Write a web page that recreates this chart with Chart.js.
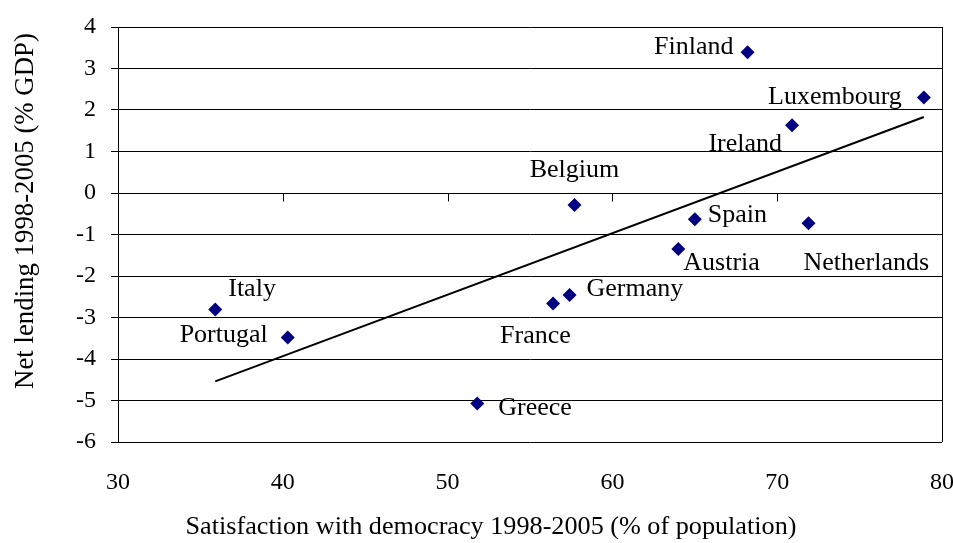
<!DOCTYPE html>
<html>
<head>
<meta charset="utf-8">
<script src="https://cdn.jsdelivr.net/npm/chart.js@4.4.1/dist/chart.umd.min.js"></script>
<style>
  html, body { margin: 0; padding: 0; background: #ffffff; }
  #wrap { width: 953px; height: 543px; }
</style>
</head>
<body>
<div id="wrap"><canvas id="c" width="953" height="543"></canvas></div>
<script>
// ---- data ----
const countries    = ['Finland', 'Luxembourg', 'Ireland', 'Belgium', 'Spain', 'Netherlands', 'Austria', 'Germany', 'France', 'Italy', 'Portugal', 'Greece'];
const satisfaction = [68.2, 78.9, 70.9, 57.7, 65.0, 71.9, 64.0, 57.4, 56.4, 35.9, 40.3, 51.8];
const netLending   = [3.39, 2.30, 1.63, -0.29, -0.63, -0.73, -1.35, -2.46, -2.66, -2.81, -3.48, -5.07];
const trendX = [35.9, 78.9];
const trendY = [-4.54, 1.83];
const xTicks = [30, 40, 50, 60, 70, 80];
const yTicks = [-6, -5, -4, -3, -2, -1, 0, 1, 2, 3, 4];
const xTitle = 'Satisfaction with democracy 1998-2005 (% of population)';
const yTitle = 'Net lending 1998-2005 (% GDP)';

// label placement relative to each point (align, dx, dy to baseline)
const labelPlace = {
  'Finland':     ['right', -14, 2],
  'Luxembourg':  ['right', -22, 6],
  'Ireland':     ['right', -10, 26],
  'Belgium':     ['center', 0, -28],
  'Spain':       ['left', 13, 3],
  'Netherlands': ['left', -5, 47],
  'Austria':     ['left', 5, 21],
  'Germany':     ['left', 17, 1],
  'France':      ['left', -53, 40],
  'Italy':       ['left', 13, -14],
  'Portugal':    ['right', -20, 5],
  'Greece':      ['left', 21, 12]
};

const FONT = "'Liberation Serif', 'Times New Roman', serif";
Chart.defaults.font.family = FONT;
Chart.defaults.color = '#000';
const points = satisfaction.map((x, i) => ({ x: x, y: netLending[i] }));
const trend = trendX.map((x, i) => ({ x: x, y: trendY[i] }));

const decor = {
  id: 'decor',
  beforeDatasetsDraw(chart) {
    const { ctx, chartArea: a, scales: { x, y } } = chart;
    ctx.save();
    ctx.strokeStyle = '#000';
    ctx.lineWidth = 1;
    // right border of plot area
    ctx.beginPath();
    ctx.moveTo(Math.round(a.right) + 0.5, a.top);
    ctx.lineTo(Math.round(a.right) + 0.5, a.bottom);
    ctx.stroke();
    // horizontal axis crossing at y = 0 with downward tick marks
    const y0 = Math.round(y.getPixelForValue(0)) + 0.5;
    ctx.beginPath();
    ctx.moveTo(a.left, y0);
    ctx.lineTo(a.right, y0);
    xTicks.forEach(v => {
      if (v === xTicks[0] || v === xTicks[xTicks.length - 1]) return;
      const px = Math.round(x.getPixelForValue(v)) + 0.5;
      ctx.moveTo(px, y0);
      ctx.lineTo(px, y0 + 8);
    });
    ctx.stroke();
    ctx.restore();
  },
  afterDatasetsDraw(chart) {
    const { ctx, scales: { x, y } } = chart;
    ctx.save();
    ctx.fillStyle = '#000';
    ctx.font = '26px ' + FONT;
    ctx.textBaseline = 'alphabetic';
    countries.forEach((name, i) => {
      const p = labelPlace[name];
      const px = x.getPixelForValue(satisfaction[i]);
      const py = y.getPixelForValue(netLending[i]);
      ctx.textAlign = p[0];
      ctx.fillText(name, px + p[1], py + p[2]);
    });
    // axis titles
    ctx.textAlign = 'center';
    ctx.textBaseline = 'middle';
    ctx.font = '26.2px ' + FONT;
    ctx.fillText(xTitle, 491, 527);
    ctx.font = '26.8px ' + FONT;
    ctx.translate(26, 211);
    ctx.rotate(-Math.PI / 2);
    ctx.fillText(yTitle, 0, 0);
    ctx.restore();
  }
};

new Chart(document.getElementById('c'), {
  type: 'scatter',
  data: {
    datasets: [
      {
        label: 'Countries',
        data: points,
        pointStyle: 'rectRot',
        pointRadius: 7,
        pointHoverRadius: 7,
        backgroundColor: '#000080',
        borderColor: '#000080',
        borderWidth: 0,
        order: 1
      },
      {
        label: 'Trend',
        type: 'line',
        data: trend,
        borderColor: '#000',
        borderWidth: 2,
        pointRadius: 0,
        fill: false,
        order: 2
      }
    ]
  },
  options: {
    responsive: false,
    animation: false,
    devicePixelRatio: 1,
    layout: { padding: { left: 0, right: 11, top: 27, bottom: 0 } },
    plugins: { legend: { display: false }, tooltip: { enabled: false }, title: { display: false } },
    scales: {
      x: {
        type: 'linear',
        min: xTicks[0],
        max: xTicks[xTicks.length - 1],
        afterBuildTicks: s => { s.ticks = xTicks.map(v => ({ value: v })); },
        grid: { display: false, drawTicks: false },
        border: { display: false },
        ticks: { color: '#000', font: { family: FONT, size: 24 }, padding: 26, maxRotation: 0 },
        afterFit: s => { s.height = 101; s.paddingLeft = 0; s.paddingRight = 0; }
      },
      y: {
        type: 'linear',
        min: yTicks[0],
        max: yTicks[yTicks.length - 1],
        afterBuildTicks: s => { s.ticks = yTicks.map(v => ({ value: v })); },
        grid: { color: '#000', lineWidth: 1, tickLength: 7, tickColor: '#000', drawTicks: true },
        border: { display: true, color: '#000', width: 1 },
        ticks: { color: '#000', font: { family: FONT, size: 24 }, padding: 15 },
        afterFit: s => { s.width = 118; s.paddingTop = 0; s.paddingBottom = 0; }
      }
    }
  },
  plugins: [decor]
});
</script>
</body>
</html>
